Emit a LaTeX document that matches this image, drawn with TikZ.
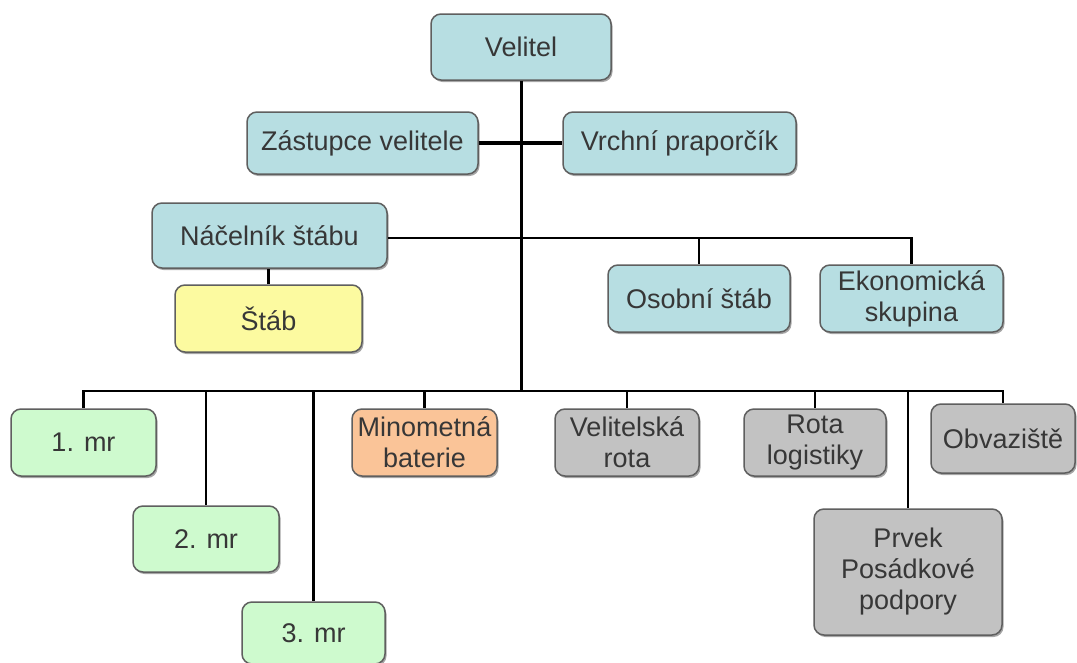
\documentclass[tikz,border=0pt]{standalone}
\usepackage{fontspec}
\setmainfont{Liberation Sans}
\usetikzlibrary{shadows}
\definecolor{cblue}{RGB}{183,222,226}
\definecolor{cyellow}{RGB}{252,250,160}
\definecolor{cgreen}{RGB}{206,250,206}
\definecolor{corange}{RGB}{250,196,152}
\definecolor{cgray}{RGB}{194,194,194}
\definecolor{cborder}{RGB}{95,95,95}
\definecolor{ctext}{RGB}{55,55,55}
\tikzset{
  box/.style={draw=cborder, line width=1.5pt, rounded corners=10pt, align=center,
    inner sep=0pt, text=ctext, font=\fontsize{27}{31}\selectfont,
    drop shadow={shadow xshift=1.5pt, shadow yshift=-2pt, opacity=0.35, fill=black}},
  blue/.style={box, fill=cblue},
  yel/.style={box, fill=cyellow},
  grn/.style={box, fill=cgreen},
  org/.style={box, fill=corange},
  gry/.style={box, fill=cgray},
  conn/.style={line width=2.5pt, black},
}
\begin{document}
\begin{tikzpicture}[x=1pt, y=-1pt]
\useasboundingbox (0,0) rectangle (1077,662);
\fill[white] (0,0) rectangle (1077,662);
% nodes
\node[blue, minimum width=180pt, minimum height=66pt] (vel) at (521,47) {Velitel};
\node[blue, minimum width=231pt, minimum height=62pt] (zas) at (362.5,143) {Zástupce velitele};
\node[blue, minimum width=233pt, minimum height=62pt] (vrch) at (679.5,143) {Vrchní praporčík};
\node[blue, minimum width=235pt, minimum height=65pt] (nac) at (269.5,235.5) {Náčelník štábu};
\node[yel, minimum width=187pt, minimum height=67pt] (stab) at (268.5,318.5) {Štáb};
\node[blue, minimum width=182pt, minimum height=67pt] (os) at (699,298.5) {Osobní štáb};
\node[blue, minimum width=183pt, minimum height=67pt] (eko) at (911.5,298.5) {Ekonomická\\skupina};
\node[grn, minimum width=145pt, minimum height=67pt] (mr1) at (83.5,442.5) {1. mr};
\node[grn, minimum width=146pt, minimum height=66pt] (mr2) at (206,539) {2. mr};
\node[grn, minimum width=143pt, minimum height=62pt] (mr3) at (313.5,633) {3. mr};
\node[org, minimum width=145pt, minimum height=67pt] (min) at (424.5,442.5) {Minometná\\baterie};
\node[gry, minimum width=144pt, minimum height=67pt] (velr) at (627,442.5) {Velitelská\\rota};
\node[gry, minimum width=142pt, minimum height=67pt] (rota) at (815,442.5) {Rota\\logistiky};
\node[gry, minimum width=144pt, minimum height=69pt] (obv) at (1003,438.5) {Obvaziště};
\node[gry, minimum width=188pt, minimum height=126pt] (prv) at (908,572) {Prvek\\Posádkové\\podpory};
% junction coordinates
\coordinate (bar) at (521,391);
\coordinate (stj) at (521,238);
% connectors
\draw[line width=3pt] (vel.south) -- (bar);
\draw[line width=4pt] (zas.east) -- (vrch.west);
\draw[conn] (nac.east |- stj) -- (stj);
\draw[conn] (stj) -| (os.north);
\draw[conn] (stj) -| (eko.north);
\draw[conn] (stab.north) -- (stab.north |- nac.south);
\draw[conn] (bar) -| (mr1.north);
\draw[conn] (bar) -| (mr2.north);
\draw[conn] (bar) -| (mr3.north);
\draw[conn] (bar) -| (min.north);
\draw[conn] (bar) -| (velr.north);
\draw[conn] (bar) -| (rota.north);
\draw[conn] (bar) -| (prv.north);
\draw[conn] (bar) -| (obv.north);
\end{tikzpicture}
\end{document}
